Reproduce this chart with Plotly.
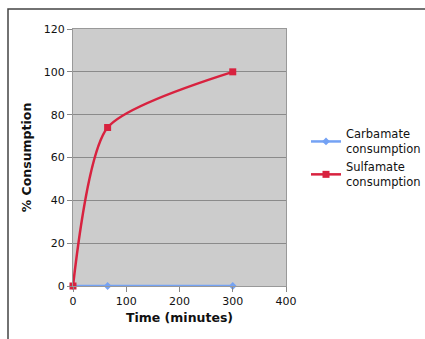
import plotly.graph_objects as go

# Consumption over time for the two reagents
time_carbamate = [0, 65, 300]
carbamate_pct = [0, 0, 0]
time_sulfamate = [0, 65, 300]
sulfamate_pct = [0, 74, 100]

series_names = ["Carbamate<br>consumption", "Sulfamate<br>consumption"]
x_ticks = [0, 100, 200, 300, 400]
y_ticks = [0, 20, 40, 60, 80, 100, 120]

FONT = "DejaVu Sans, Verdana, sans-serif"
BLUE = "#74a2f4"
RED = "#d8223f"

fig = go.Figure()
fig.add_trace(go.Scatter(
    x=time_carbamate, y=carbamate_pct, name=series_names[0],
    mode="lines+markers", line=dict(color=BLUE, width=2.5),
    marker=dict(symbol="diamond", size=6, color=BLUE),
    cliponaxis=False,
))
fig.add_trace(go.Scatter(
    x=time_sulfamate, y=sulfamate_pct, name=series_names[1],
    mode="lines+markers", line=dict(color=RED, width=2.5, shape="spline", smoothing=0.65),
    marker=dict(symbol="square", size=7, color=RED),
    cliponaxis=False,
))

fig.update_layout(
    width=425, height=339,
    margin=dict(l=73, r=139, t=29, b=53, autoexpand=False),
    paper_bgcolor="white",
    plot_bgcolor="#cccccc",
    font=dict(family=FONT, size=11, color="#111111"),
    showlegend=True,
    legend=dict(
        xref="container", yref="container",
        x=306 / 425, y=1 - 120 / 339, xanchor="left", yanchor="top",
        font=dict(family=FONT, size=11.5, color="#111111"),
        bgcolor="rgba(0,0,0,0)", itemwidth=30, tracegroupgap=0,
    ),
    xaxis=dict(
        range=[0, 400], tickvals=x_ticks, ticks="outside", ticklen=5,
        tickcolor="#888888", showline=True, linecolor="#999999", linewidth=1,
        mirror=True, showgrid=False, zeroline=False,
        title=dict(text="<b>Time (minutes)</b>", font=dict(family=FONT, size=12.5), standoff=6),
    ),
    yaxis=dict(
        range=[0, 120], tickvals=y_ticks, ticks="outside", ticklen=5,
        tickcolor="#888888", showline=True, linecolor="#999999", linewidth=1,
        mirror=True, showgrid=True, gridcolor="#8a8a8a", gridwidth=1, zeroline=False,
        title=dict(text="<b>% Consumption</b>", font=dict(family=FONT, size=12.5), standoff=9),
    ),
    shapes=[dict(
        type="rect", xref="paper", yref="paper",
        x0=(8 - 73) / 213, x1=(440 - 73) / 213,
        y0=-(360 - 286) / 257, y1=1 + (29 - 9) / 257,
        line=dict(color="#444444", width=1.5), fillcolor="rgba(0,0,0,0)", layer="below",
    )],
)

fig.write_html("out.html")
